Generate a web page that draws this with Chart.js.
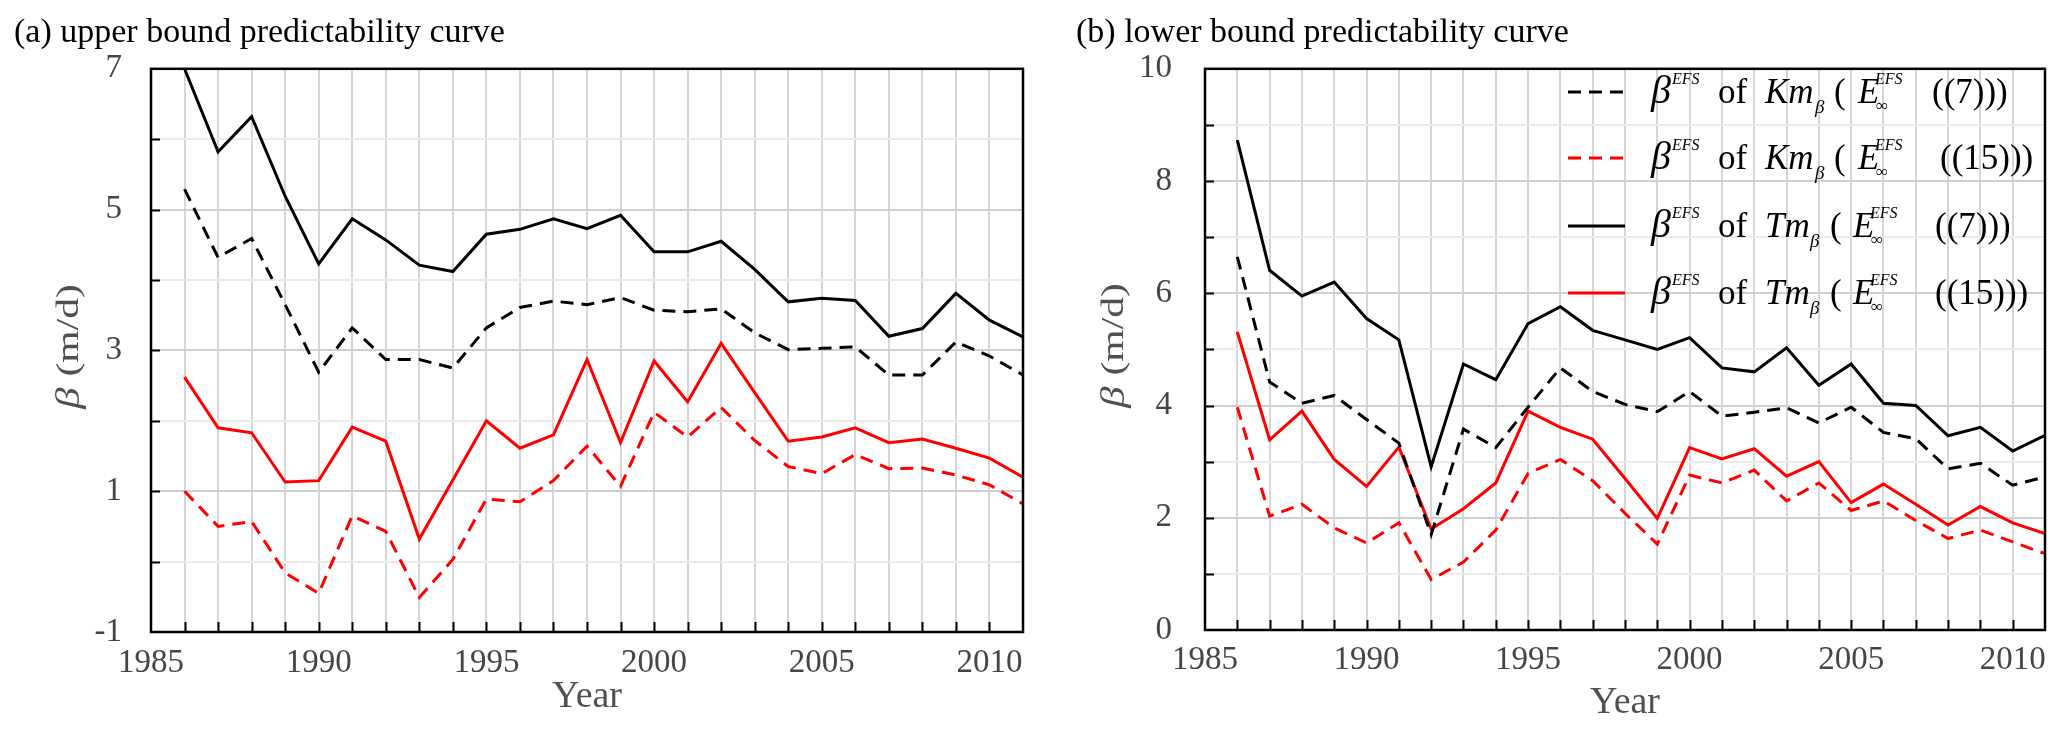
<!DOCTYPE html>
<html>
<head>
<meta charset="utf-8">
<script src="https://cdn.jsdelivr.net/npm/chart.js@4"></script>
<style>
  html, body { margin: 0; padding: 0; background: #fff; }
  #wrap { position: relative; width: 2067px; height: 736px; }
  canvas { position: absolute; top: 0; }
  #upper { left: 0; }
  #lower { left: 1035px; }
</style>
</head>
<body>
<div id="wrap">
  <canvas id="upper" width="1035" height="736"></canvas>
  <canvas id="lower" width="1032" height="736"></canvas>
</div>
<script>
// values
const years = [1986, 1987, 1988, 1989, 1990, 1991, 1992, 1993, 1994, 1995, 1996, 1997, 1998,
  1999, 2000, 2001, 2002, 2003, 2004, 2005, 2006, 2007, 2008, 2009, 2010, 2011];

// (a) upper bound
const upperKm7  = [5.29, 4.32, 4.59, 3.65, 2.69, 3.32, 2.87, 2.87, 2.75, 3.32, 3.61, 3.70, 3.65,
  3.75, 3.57, 3.55, 3.59, 3.25, 3.01, 3.03, 3.05, 2.65, 2.65, 3.12, 2.92, 2.65];
const upperKm15 = [1.00, 0.50, 0.57, -0.16, -0.45, 0.65, 0.43, -0.51, 0.03, 0.89, 0.85, 1.15, 1.64,
  1.07, 2.12, 1.77, 2.19, 1.72, 1.35, 1.25, 1.52, 1.32, 1.33, 1.23, 1.09, 0.82];
const upperTm7  = [7.00, 5.82, 6.32, 5.19, 4.23, 4.87, 4.57, 4.21, 4.12, 4.65, 4.72, 4.87, 4.73,
  4.92, 4.40, 4.40, 4.55, 4.15, 3.69, 3.74, 3.71, 3.20, 3.31, 3.81, 3.43, 3.19];
const upperTm15 = [2.62, 1.90, 1.83, 1.13, 1.15, 1.91, 1.71, 0.32, 1.16, 2.00, 1.61, 1.80, 2.87,
  1.69, 2.85, 2.27, 3.10, 2.40, 1.71, 1.77, 1.90, 1.69, 1.74, 1.61, 1.47, 1.20];

// (b) lower bound
const lowerKm7  = [6.65, 4.42, 4.04, 4.18, 3.75, 3.33, 1.70, 3.58, 3.25, 3.97, 4.67, 4.25, 4.02,
  3.89, 4.25, 3.81, 3.88, 3.96, 3.69, 3.97, 3.52, 3.41, 2.87, 2.97, 2.58, 2.73];
const lowerKm15 = [3.97, 2.03, 2.24, 1.82, 1.55, 1.91, 0.90, 1.21, 1.78, 2.79, 3.04, 2.66, 2.08,
  1.53, 2.76, 2.62, 2.85, 2.30, 2.62, 2.13, 2.30, 1.95, 1.63, 1.78, 1.57, 1.36];
const lowerTm7  = [8.73, 6.41, 5.95, 6.20, 5.55, 5.17, 2.91, 4.74, 4.46, 5.46, 5.76, 5.34, 5.17,
  5.00, 5.21, 4.67, 4.60, 5.03, 4.36, 4.74, 4.04, 4.00, 3.46, 3.61, 3.19, 3.47];
const lowerTm15 = [5.31, 3.39, 3.90, 3.04, 2.56, 3.26, 1.80, 2.16, 2.62, 3.90, 3.61, 3.40, 2.70,
  1.99, 3.25, 3.05, 3.23, 2.74, 3.00, 2.27, 2.60, 2.24, 1.87, 2.20, 1.91, 1.72];

const xTickLabels = [1985, 1990, 1995, 2000, 2005, 2010];
const upperYLabels = [-1, 1, 3, 5, 7];
const lowerYLabels = [0, 2, 4, 6, 8, 10];

const panelTitles = ['(a) upper bound predictability curve', '(b) lower bound predictability curve'];
const xTitle = 'Year';
const legendTails = ['((7)))', '((15)))', '((7)))', '((15)))'];
const legendModels = ['Km', 'Km', 'Tm', 'Tm'];

const SERIF = '"Liberation Serif", "DejaVu Serif", serif';
const DASH = [13, 8];

function pts(vals) {
  return years.map((yr, i) => ({ x: yr, y: vals[i] }));
}

function series(km7, km15, tm7, tm15) {
  return [
    { label: 'Km7',  data: pts(km7),  borderColor: '#000', borderDash: DASH },
    { label: 'Km15', data: pts(km15), borderColor: '#ff0000', borderDash: DASH },
    { label: 'Tm7',  data: pts(tm7),  borderColor: '#000' },
    { label: 'Tm15', data: pts(tm15), borderColor: '#ff0000' },
  ].map(d => ({ ...d, borderWidth: 3, pointRadius: 0, tension: 0, fill: false }));
}

// frame, inward ticks, y title, optional legend
function decor(cfg) {
  return {
    id: 'decor',
    afterDatasetsDraw(chart) {
      const { ctx, chartArea: a, scales } = chart;
      ctx.save();
      ctx.strokeStyle = '#000';
      ctx.lineWidth = 2;
      ctx.beginPath();
      for (let yr = 1986; yr <= 2010; yr++) {
        const px = Math.round(scales.x.getPixelForValue(yr)) + 0.5;
        ctx.moveTo(px, a.bottom);
        ctx.lineTo(px, a.bottom - 10);
      }
      for (let v = cfg.yMin + 1; v < cfg.yMax; v++) {
        const py = Math.round(scales.y.getPixelForValue(v)) + 0.5;
        ctx.moveTo(a.left, py);
        ctx.lineTo(a.left + 9, py);
      }
      ctx.stroke();
      ctx.lineWidth = 2.5;
      ctx.strokeRect(a.left, a.top, a.right - a.left, a.bottom - a.top);

      // y axis title with italic beta, stretched along its length like the original
      ctx.translate(cfg.yTitleX, (a.top + a.bottom) / 2 - 4);
      ctx.rotate(-Math.PI / 2);
      ctx.scale(1.3, 1);
      ctx.fillStyle = '#505050';
      ctx.textBaseline = 'middle';
      ctx.textAlign = 'left';
      ctx.font = 'italic 33px ' + SERIF;
      const w1 = ctx.measureText('β ').width;
      ctx.font = '32px ' + SERIF;
      const w2 = ctx.measureText('(m/d)').width;
      const x0 = -(w1 + w2) / 2;
      ctx.font = 'italic 33px ' + SERIF;
      ctx.fillText('β ', x0, 0);
      ctx.font = '32px ' + SERIF;
      ctx.fillText('(m/d)', x0 + w1, 0);
      ctx.restore();

      if (cfg.legend) drawLegend(ctx, chart);
    }
  };
}

function drawLegend(ctx, chart) {
  const rows = [92, 158, 226, 293];
  const lineX0 = 533, lineX1 = 590, textX = 612;
  const rm = px => px + 'px ' + SERIF;
  const it = px => 'italic ' + px + 'px ' + SERIF;
  ctx.save();
  ctx.textAlign = 'left';
  ctx.textBaseline = 'alphabetic';
  ctx.font = it(40);
  const betaW = ctx.measureText('β').width;
  chart.data.datasets.forEach((ds, i) => {
    const y = rows[i];
    ctx.strokeStyle = ds.borderColor;
    ctx.lineWidth = 3;
    ctx.setLineDash(ds.borderDash || []);
    ctx.beginPath();
    ctx.moveTo(lineX0, y);
    ctx.lineTo(lineX1, y);
    ctx.stroke();
    ctx.setLineDash([]);

    const tm = legendModels[i] === 'Tm';
    const long = legendTails[i].length > 6;
    const parts = [
      { t: 'β', f: it(40), dx: 4, dy: 11 },
      { t: 'EFS', f: it(16), dx: 4 + betaW + 1, dy: -8 },
      { t: 'of', f: rm(35), dx: 71, dy: 11 },
      { t: legendModels[i], f: it(35), dx: 118, dy: 11 },
      { t: 'β', f: it(19), dx: tm ? 163 : 168, dy: 21 },
      { t: '(', f: rm(35), dx: tm ? 183 : 187, dy: 11 },
      { t: 'E', f: it(35), dx: tm ? 206 : 211, dy: 11 },
      { t: 'EFS', f: it(16), dx: tm ? 223 : 228, dy: -8 },
      { t: '∞', f: rm(17), dx: tm ? 224 : 229, dy: 19 },
      { t: legendTails[i], f: rm(35), dx: tm ? 288 : (long ? 293 : 285), dy: 11 },
    ];
    ctx.fillStyle = '#000';
    for (const p of parts) {
      ctx.font = p.f;
      ctx.fillText(p.t, textX + p.dx, y + p.dy);
    }
  });
  ctx.restore();
}

function makeChart(id, title, datasets, cfg) {
  const labelSet = cfg.yLabels;
  return new Chart(document.getElementById(id), {
    type: 'line',
    data: { datasets },
    plugins: [decor(cfg)],
    options: {
      responsive: false,
      animation: false,
      devicePixelRatio: 1,
      layout: { padding: { left: cfg.padLeft, right: cfg.padRight, top: 0, bottom: 0 } },
      plugins: {
        legend: { display: false },
        tooltip: { enabled: false },
        title: {
          display: true, text: title, align: 'start', color: '#000',
          font: { family: SERIF, size: 34, weight: 'normal' },
          padding: { top: 13, bottom: 15 }
        }
      },
      scales: {
        x: {
          type: 'linear', min: 1985, max: 2011,
          afterFit: s => { s.height = cfg.xHeight; },
          border: { display: false },
          grid: { color: '#d6d6d6', lineWidth: 2, drawTicks: false },
          ticks: {
            stepSize: 1, autoSkip: false, maxRotation: 0, padding: cfg.xPad,
            color: '#454545', font: { family: SERIF, size: 33 },
            callback: v => xTickLabels.includes(v) ? String(v) : ''
          },
          title: {
            display: true, text: xTitle, color: '#505050',
            font: { family: SERIF, size: 38 }, padding: { top: 0, bottom: cfg.yearPad }
          }
        },
        y: {
          min: cfg.yMin, max: cfg.yMax,
          afterFit: s => { s.width = cfg.yWidth; },
          border: { display: false },
          grid: {
            lineWidth: 2, drawTicks: false,
            color: c => labelSet.includes(c.tick.value) ? '#cfcfcf' : '#ebebeb'
          },
          ticks: {
            stepSize: 1, autoSkip: false, padding: cfg.yPad,
            color: '#454545', font: { family: SERIF, size: 33 },
            callback: v => labelSet.includes(v) ? String(v) : ''
          }
        }
      }
    }
  });
}

makeChart('upper', panelTitles[0], series(upperKm7, upperKm15, upperTm7, upperTm15), {
  yMin: -1, yMax: 7, yLabels: upperYLabels,
  padLeft: 14, padRight: 5, yWidth: 137, yPad: 29, xHeight: 104, xPad: 12, yearPad: 16,
  yTitleX: 70, legend: false
});

makeChart('lower', panelTitles[1], series(lowerKm7, lowerKm15, lowerTm7, lowerTm15), {
  yMin: 0, yMax: 10, yLabels: lowerYLabels,
  padLeft: 41, padRight: 22, yWidth: 129, yPad: 33, xHeight: 106, xPad: 11, yearPad: 10,
  yTitleX: 80, legend: true
});
</script>
</body>
</html>
